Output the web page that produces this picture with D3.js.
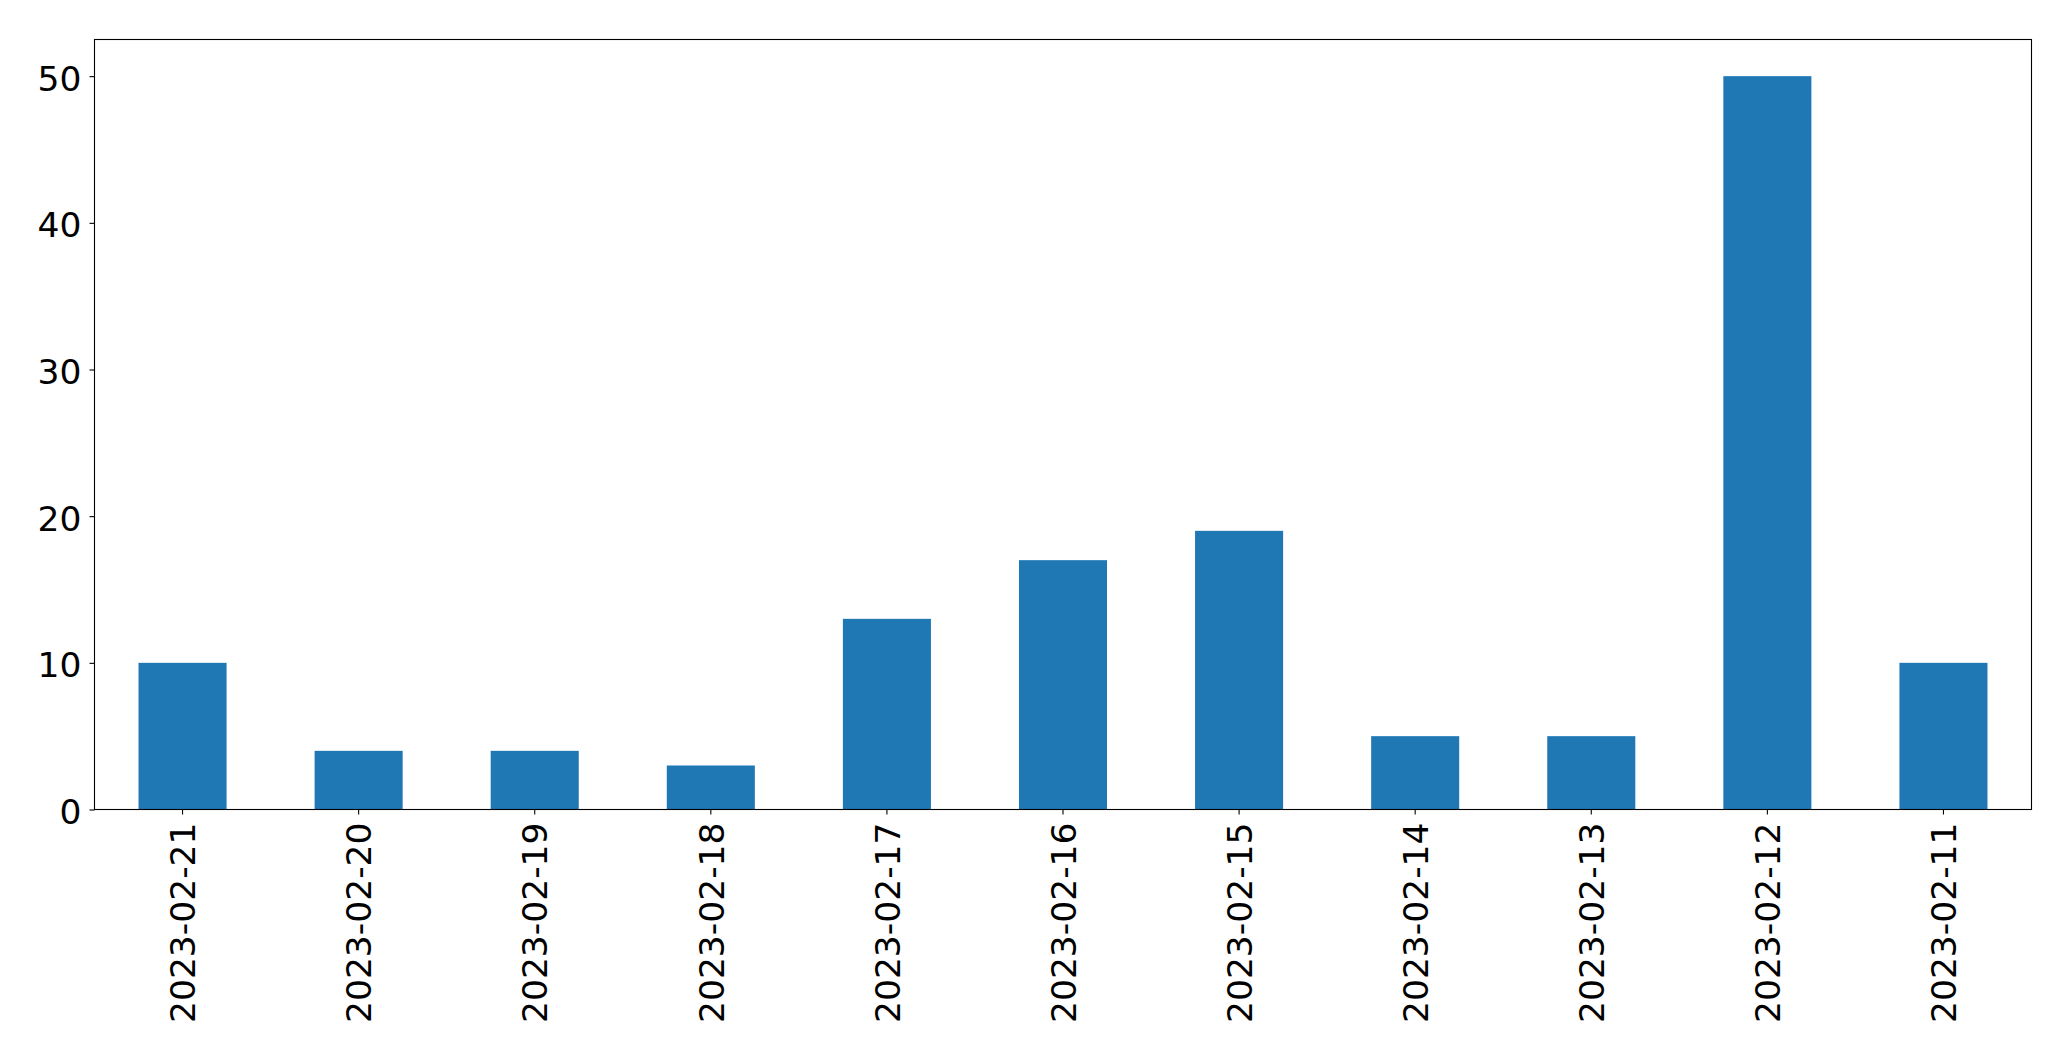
<!DOCTYPE html>
<html>
<head>
<meta charset="utf-8">
<script src="https://cdn.jsdelivr.net/npm/d3@7"></script>
<style>
  body { margin: 0; background: #fff; }
  text { font-family: "DejaVu Sans", sans-serif; fill: #000; }
</style>
</head>
<body>
<div id="chart"></div>
<script>
// data
var dates = ["2023-02-21", "2023-02-20", "2023-02-19", "2023-02-18", "2023-02-17",
  "2023-02-16", "2023-02-15", "2023-02-14", "2023-02-13", "2023-02-12", "2023-02-11"];
var counts = [10, 4, 4, 3, 13, 17, 19, 5, 5, 50, 10];
var yTicks = [0, 10, 20, 30, 40, 50];

var svgWidth = 2071;
var svgHeight = 1061;
var margin = { top: 39.5, right: 40, bottom: 252, left: 94.5 };
var width = 2031.5 - margin.left;
var height = 809.5 - margin.top;
var fontSize = 34.5;

var svg = d3.select("#chart")
  .append("svg")
  .attr("width", svgWidth)
  .attr("height", svgHeight);

var chartGroup = svg.append("g")
  .attr("transform", `translate(${margin.left}, ${margin.top})`);

// scales
var xBandScale = d3.scaleBand()
  .domain(dates)
  .range([0, width])
  .padding(0);
var yLinearScale = d3.scaleLinear()
  .domain([0, d3.max(counts) * 1.05])
  .range([height, 0]);

var barWidth = xBandScale.bandwidth() * 0.5;

// bars
chartGroup.selectAll("rect")
  .data(dates)
  .enter()
  .append("rect")
  .attr("x", (d) => xBandScale(d) + xBandScale.bandwidth() / 2 - barWidth / 2)
  .attr("y", (d, i) => yLinearScale(counts[i]))
  .attr("width", barWidth)
  .attr("height", (d, i) => height - yLinearScale(counts[i]))
  .attr("fill", "#1f77b4");

// axes
var xAxis = d3.axisBottom(xBandScale).tickSizeOuter(0).tickSize(5).tickPadding(0);
var yAxis = d3.axisLeft(yLinearScale).tickValues(yTicks).tickSizeOuter(0).tickSize(5).tickPadding(8);

var xg = chartGroup.append("g")
  .attr("transform", `translate(0, ${height})`)
  .call(xAxis);
xg.select(".domain").remove();
xg.selectAll(".tick line").attr("stroke", "#000").attr("stroke-width", 1.1);
xg.selectAll(".tick text")
  .attr("font-size", fontSize)
  .attr("font-family", "DejaVu Sans")
  .attr("text-anchor", "end")
  .attr("transform", "rotate(-90)")
  .attr("x", -13)
  .attr("y", 0)
  .attr("dy", "0.37em");

var yg = chartGroup.append("g")
  .call(yAxis);
yg.select(".domain").remove();
yg.selectAll(".tick line").attr("stroke", "#000").attr("stroke-width", 1.1);
yg.selectAll(".tick text")
  .attr("font-size", fontSize)
  .attr("font-family", "DejaVu Sans")
  .attr("dy", "0.41em");

// frame
chartGroup.append("rect")
  .attr("x", 0)
  .attr("y", 0)
  .attr("width", width)
  .attr("height", height)
  .attr("fill", "none")
  .attr("stroke", "#000")
  .attr("stroke-width", 1.1);
</script>
</body>
</html>
